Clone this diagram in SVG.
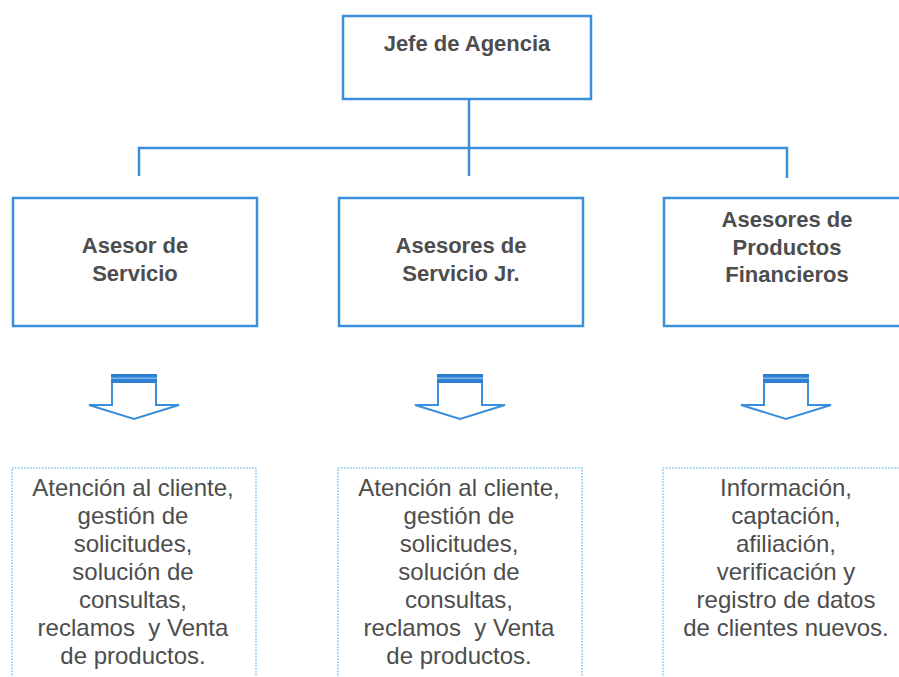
<svg xmlns="http://www.w3.org/2000/svg" width="899" height="677" viewBox="0 0 899 677">
<defs>
<style>
.box{fill:#fff;stroke:#3a8edb;stroke-width:2.5}
.dot{fill:#fff;stroke:#7fc3ea;stroke-width:1.5;stroke-dasharray:1.5 1.5}
.conn{fill:none;stroke:#3a8edb;stroke-width:2.5}
.hd{font-family:"Liberation Sans",Arial,sans-serif;font-weight:bold;font-size:22px;fill:#4d4d4d;text-anchor:middle}
.bd{font-family:"Liberation Sans",Arial,sans-serif;font-size:24px;fill:#4d4d4d;text-anchor:middle}
.arw{fill:#fff;stroke:#3a8edb;stroke-width:2;stroke-linejoin:miter}
.bar{fill:#2f7fd0}
.bar2{fill:#7db8ec}
</style>
<g id="arrowIcon">
<polygon class="arw" points="-22,382 -22,405 -45,405 0,419 45,405 22,405 22,382"/>
<rect class="bar" x="-23" y="374" width="46" height="9"/>
<rect class="bar2" x="-23" y="377.5" width="46" height="1.5"/>
</g>
</defs>
<rect width="899" height="677" fill="#fff"/>
<g id="connectors">
<path class="conn" d="M469,100 V176 M139,176 V148 H787 V178"/>
</g>
<g id="jefe">
<rect class="box" x="343" y="16" width="248" height="83"/>
<text class="hd" x="467" y="51">Jefe de Agencia</text>
</g>
<g id="asesor-servicio">
<rect class="box" x="13" y="198" width="244" height="128"/>
<text class="hd" x="135" y="253">Asesor de</text>
<text class="hd" x="135" y="281">Servicio</text>
</g>
<g id="asesores-jr">
<rect class="box" x="339" y="198" width="244" height="128"/>
<text class="hd" x="461" y="253">Asesores de</text>
<text class="hd" x="461" y="281">Servicio Jr.</text>
</g>
<g id="asesores-pf">
<rect class="box" x="664" y="198" width="250" height="128"/>
<text class="hd" x="787" y="227">Asesores de</text>
<text class="hd" x="787" y="255">Productos</text>
<text class="hd" x="787" y="282">Financieros</text>
</g>
<g id="arrow1"><use href="#arrowIcon" transform="translate(134,0)"/></g>
<g id="arrow2"><use href="#arrowIcon" transform="translate(460,0)"/></g>
<g id="arrow3"><use href="#arrowIcon" transform="translate(786,0)"/></g>
<g id="tareas-servicio">
<rect class="dot" x="12" y="468" width="244" height="230"/>
<text class="bd" x="133" y="496">Atención al cliente,</text>
<text class="bd" x="133" y="524">gestión de</text>
<text class="bd" x="133" y="552">solicitudes,</text>
<text class="bd" x="133" y="580">solución de</text>
<text class="bd" x="133" y="608">consultas,</text>
<text class="bd" x="133" y="636" xml:space="preserve">reclamos  y Venta</text>
<text class="bd" x="133" y="664">de productos.</text>
</g>
<g id="tareas-jr">
<rect class="dot" x="338" y="468" width="244" height="230"/>
<text class="bd" x="459" y="496">Atención al cliente,</text>
<text class="bd" x="459" y="524">gestión de</text>
<text class="bd" x="459" y="552">solicitudes,</text>
<text class="bd" x="459" y="580">solución de</text>
<text class="bd" x="459" y="608">consultas,</text>
<text class="bd" x="459" y="636" xml:space="preserve">reclamos  y Venta</text>
<text class="bd" x="459" y="664">de productos.</text>
</g>
<g id="tareas-pf">
<rect class="dot" x="663" y="468" width="250" height="230"/>
<text class="bd" x="786" y="496">Información,</text>
<text class="bd" x="786" y="524">captación,</text>
<text class="bd" x="786" y="552">afiliación,</text>
<text class="bd" x="786" y="580">verificación y</text>
<text class="bd" x="786" y="608">registro de datos</text>
<text class="bd" x="786" y="636">de clientes nuevos.</text>
</g>
</svg>
